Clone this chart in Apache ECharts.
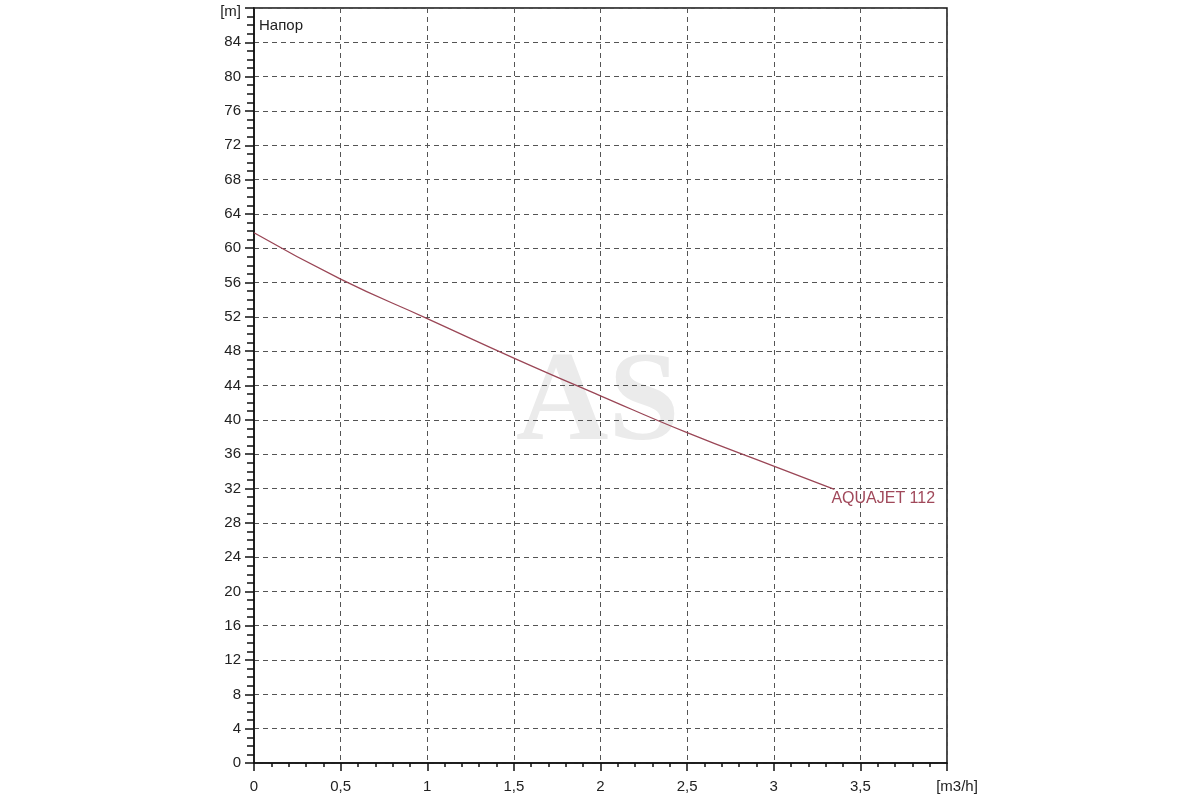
<!DOCTYPE html>
<html>
<head>
<meta charset="utf-8">
<script src="https://cdn.jsdelivr.net/npm/echarts@6/dist/echarts.min.js"></script>
<style>
html,body{margin:0;padding:0;background:#fff;}
#chart{width:1200px;height:800px;}
</style>
</head>
<body>
<div id="chart"></div>
<script>
var flowValues = [0, 0.5, 1, 1.5, 2, 2.5, 3, 3.35];
var headValues = [61.8, 56.4, 51.8, 47.2, 42.8, 38.5, 34.6, 31.9];
var seriesName = 'AQUAJET 112';
var yAxisTitle = 'Напор';
var xUnit = '[m3/h]';
var yUnit = '[m]';

var data = flowValues.map(function (x, i) { return [x, headValues[i]]; });

var chart = echarts.init(document.getElementById('chart'));
var font = 'Liberation Sans, Arial, sans-serif';
chart.setOption({
  animation: false,
  backgroundColor: '#fff',
  graphic: [
    {
      type: 'text',
      left: 516,
      top: 342,
      z: -10,
      silent: true,
      style: {
        text: 'AS',
        fill: '#ebebeb',
        font: 'bold 128px "Liberation Serif", "DejaVu Serif", serif'
      }
    },
    {
      type: 'text',
      left: 259,
      top: 18,
      z: 10,
      style: {
        text: yAxisTitle,
        fill: '#222',
        font: '15px ' + font
      }
    }
  ],
  grid: {
    left: 254, right: 253, top: 8, bottom: 37,
    show: true,
    borderColor: '#111',
    borderWidth: 1.5,
    backgroundColor: 'transparent'
  },
  xAxis: {
    type: 'value',
    min: 0, max: 4, interval: 0.5,
    axisLine: { show: true, onZero: false, lineStyle: { color: '#111', width: 1.5 } },
    axisTick: { show: true, length: 8, lineStyle: { color: '#111', width: 1.5 } },
    minorTick: { show: true, splitNumber: 5, length: 4, lineStyle: { color: '#111', width: 1.5 } },
    splitLine: { show: true, lineStyle: { color: '#555', width: 1, type: [5, 4] } },
    axisLabel: {
      margin: 16,
      color: '#222',
      fontSize: 15,
      fontFamily: font,
      formatter: function (v) {
        if (Math.abs(v - 4) < 1e-9) return '{u|' + xUnit + '}';
        return String(v).replace('.', ',');
      },
      rich: { u: { padding: [0, 0, 0, 20], fontSize: 15, color: '#222', fontFamily: font } }
    }
  },
  yAxis: {
    type: 'value',
    min: 0, max: 88, interval: 4,
    axisLine: { show: true, onZero: false, lineStyle: { color: '#111', width: 1.5 } },
    axisTick: { show: true, length: 9, lineStyle: { color: '#111', width: 1.5 } },
    minorTick: { show: true, splitNumber: 4, length: 7, lineStyle: { color: '#111', width: 1.5 } },
    splitLine: { show: true, lineStyle: { color: '#555', width: 1, type: [5, 4] } },
    axisLabel: {
      margin: 13,
      color: '#222',
      fontSize: 15,
      fontFamily: font,
      formatter: function (v) {
        if (v === 88) return '{u|' + yUnit + '}';
        return String(v);
      },
      rich: { u: { padding: [8, 0, 0, 0], fontSize: 15, color: '#222', fontFamily: font } }
    }
  },
  series: [{
    name: seriesName,
    type: 'line',
    data: data,
    smooth: true,
    showSymbol: false,
    symbol: 'none',
    lineStyle: { color: '#9a4656', width: 1.3 },
    endLabel: {
      show: true,
      formatter: seriesName,
      distance: 0,
      offset: [-3, 9],
      color: '#a0485a',
      fontSize: 16,
      fontFamily: font
    },
    z: 5
  }]
});
</script>
</body>
</html>
